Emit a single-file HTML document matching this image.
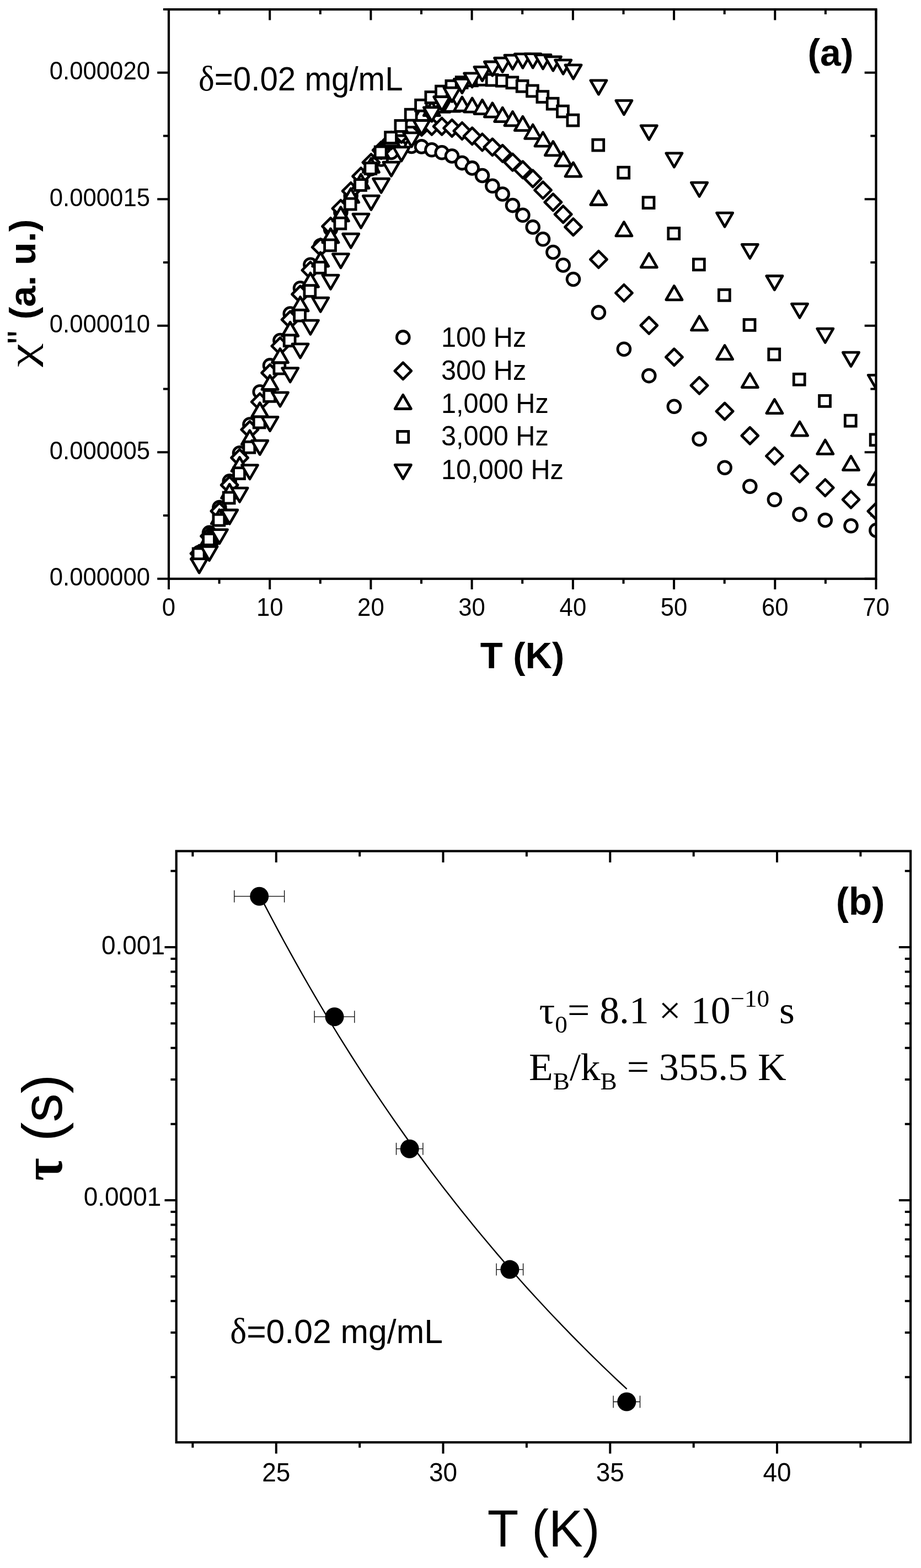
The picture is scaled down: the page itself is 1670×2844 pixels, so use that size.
<!DOCTYPE html>
<html lang="en"><head><meta charset="utf-8"><title>Figure</title>
<style>html,body{margin:0;padding:0;background:#fff}svg{display:block}</style></head>
<body>
<svg width="1670" height="2844" viewBox="0 0 1670 2844">
<defs>
<clipPath id="clipA"><rect x="306.0" y="17.1" width="1282.5" height="1032.7"/></clipPath>
</defs>
<rect width="1670" height="2844" fill="#fff"/>
<path d="M306.0 1049.8v19.3M306.0 17.1v19.3M397.6 1049.8v9.0M397.6 17.1v9.0M489.2 1049.8v19.3M489.2 17.1v19.3M580.8 1049.8v9.0M580.8 17.1v9.0M672.4 1049.8v19.3M672.4 17.1v19.3M764.0 1049.8v9.0M764.0 17.1v9.0M855.6 1049.8v19.3M855.6 17.1v19.3M947.2 1049.8v9.0M947.2 17.1v9.0M1038.9 1049.8v19.3M1038.9 17.1v19.3M1130.5 1049.8v9.0M1130.5 17.1v9.0M1222.1 1049.8v19.3M1222.1 17.1v19.3M1313.7 1049.8v9.0M1313.7 17.1v9.0M1405.3 1049.8v19.3M1405.3 17.1v19.3M1496.9 1049.8v9.0M1496.9 17.1v9.0M1588.5 1049.8v19.3M1588.5 17.1v19.3M306.0 1049.8h-20.8M1588.5 1049.8h-20.8M306.0 935.1h-10.1M1588.5 935.1h-10.1M306.0 820.3h-20.8M1588.5 820.3h-20.8M306.0 705.6h-10.1M1588.5 705.6h-10.1M306.0 590.8h-20.8M1588.5 590.8h-20.8M306.0 476.1h-10.1M1588.5 476.1h-10.1M306.0 361.3h-20.8M1588.5 361.3h-20.8M306.0 246.6h-10.1M1588.5 246.6h-10.1M306.0 131.8h-20.8M1588.5 131.8h-20.8M306.0 17.1h-10.1M1588.5 17.1h-10.1" stroke="#000" stroke-width="4.0" fill="none"/>
<g clip-path="url(#clipA)" fill="#fff" stroke="#000" stroke-width="4.8" stroke-linejoin="round">
<g><circle cx="361.2" cy="1002.0" r="11.4"/><circle cx="379.5" cy="966.4" r="11.4"/><circle cx="397.9" cy="920.5" r="11.4"/><circle cx="416.2" cy="872.9" r="11.4"/><circle cx="434.5" cy="821.8" r="11.4"/><circle cx="452.9" cy="770.0" r="11.4"/><circle cx="471.2" cy="710.7" r="11.4"/><circle cx="489.5" cy="662.9" r="11.4"/><circle cx="507.9" cy="617.5" r="11.4"/><circle cx="526.2" cy="569.0" r="11.4"/><circle cx="544.5" cy="522.7" r="11.4"/><circle cx="562.9" cy="480.2" r="11.4"/><circle cx="581.2" cy="445.5" r="11.4"/><circle cx="599.5" cy="415.4" r="11.4"/><circle cx="617.9" cy="385.0" r="11.4"/><circle cx="636.2" cy="354.8" r="11.4"/><circle cx="654.5" cy="328.0" r="11.4"/><circle cx="672.9" cy="306.1" r="11.4"/><circle cx="691.2" cy="289.0" r="11.4"/><circle cx="709.5" cy="276.5" r="11.4"/><circle cx="727.9" cy="268.5" r="11.4"/><circle cx="746.2" cy="265.5" r="11.4"/><circle cx="764.5" cy="265.9" r="11.4"/><circle cx="782.9" cy="271.8" r="11.4"/><circle cx="801.2" cy="276.8" r="11.4"/><circle cx="819.5" cy="283.0" r="11.4"/><circle cx="837.9" cy="295.6" r="11.4"/><circle cx="856.2" cy="304.9" r="11.4"/><circle cx="874.5" cy="318.5" r="11.4"/><circle cx="892.9" cy="337.3" r="11.4"/><circle cx="911.2" cy="352.0" r="11.4"/><circle cx="929.5" cy="372.6" r="11.4"/><circle cx="947.9" cy="390.3" r="11.4"/><circle cx="966.2" cy="411.9" r="11.4"/><circle cx="984.5" cy="433.8" r="11.4"/><circle cx="1002.9" cy="457.5" r="11.4"/><circle cx="1021.2" cy="481.0" r="11.4"/><circle cx="1039.5" cy="506.5" r="11.4"/><circle cx="1085.4" cy="566.8" r="11.4"/><circle cx="1131.4" cy="633.2" r="11.4"/><circle cx="1176.8" cy="681.6" r="11.4"/><circle cx="1222.4" cy="737.3" r="11.4"/><circle cx="1268.1" cy="796.2" r="11.4"/><circle cx="1314.1" cy="848.2" r="11.4"/><circle cx="1359.8" cy="882.2" r="11.4"/><circle cx="1404.4" cy="906.3" r="11.4"/><circle cx="1450.0" cy="933.1" r="11.4"/><circle cx="1496.3" cy="943.5" r="11.4"/><circle cx="1543.0" cy="953.8" r="11.4"/><circle cx="1588.9" cy="961.9" r="11.4"/></g>
<g><path d="M361.2 989.0L376.2 1004.0L361.2 1019.0L346.1 1004.0Z"/><path d="M379.5 957.4L394.6 972.4L379.5 987.4L364.5 972.4Z"/><path d="M397.9 912.0L412.9 927.0L397.9 942.0L382.8 927.0Z"/><path d="M416.2 864.7L431.2 879.7L416.2 894.8L401.1 879.7Z"/><path d="M434.5 815.2L449.6 830.3L434.5 845.3L419.5 830.3Z"/><path d="M452.9 764.2L467.9 779.2L452.9 794.2L437.8 779.2Z"/><path d="M471.2 713.9L486.2 728.9L471.2 743.9L456.1 728.9Z"/><path d="M489.5 661.2L504.6 676.2L489.5 691.2L474.5 676.2Z"/><path d="M507.9 612.6L522.9 627.6L507.9 642.6L492.8 627.6Z"/><path d="M526.2 564.7L541.2 579.7L526.2 594.8L511.1 579.7Z"/><path d="M544.5 518.7L559.6 533.7L544.5 548.8L529.5 533.7Z"/><path d="M562.9 475.1L577.9 490.1L562.9 505.2L547.8 490.1Z"/><path d="M581.2 433.3L596.2 448.4L581.2 463.4L566.1 448.4Z"/><path d="M599.5 395.4L614.6 410.5L599.5 425.6L584.5 410.5Z"/><path d="M617.9 363.1L632.9 378.1L617.9 393.2L602.8 378.1Z"/><path d="M636.2 331.4L651.2 346.5L636.2 361.6L621.1 346.5Z"/><path d="M654.5 304.6L669.6 319.7L654.5 334.8L639.5 319.7Z"/><path d="M672.9 279.6L687.9 294.6L672.9 309.7L657.8 294.6Z"/><path d="M691.2 257.4L706.2 272.5L691.2 287.6L676.1 272.5Z"/><path d="M709.5 239.9L724.6 255.0L709.5 270.1L694.5 255.0Z"/><path d="M727.9 228.3L742.9 243.4L727.9 258.4L712.8 243.4Z"/><path d="M746.2 220.4L761.2 235.5L746.2 250.6L731.1 235.5Z"/><path d="M764.5 215.4L779.6 230.5L764.5 245.6L749.5 230.5Z"/><path d="M782.9 214.2L797.9 229.3L782.9 244.4L767.8 229.3Z"/><path d="M801.2 214.1L816.2 229.2L801.2 244.2L786.1 229.2Z"/><path d="M819.5 217.3L834.6 232.4L819.5 247.5L804.5 232.4Z"/><path d="M837.9 222.4L852.9 237.5L837.9 252.6L822.8 237.5Z"/><path d="M856.2 231.8L871.2 246.9L856.2 261.9L841.1 246.9Z"/><path d="M874.5 242.9L889.6 258.0L874.5 273.1L859.5 258.0Z"/><path d="M892.9 251.8L907.9 266.8L892.9 281.9L877.8 266.8Z"/><path d="M911.2 263.3L926.2 278.4L911.2 293.4L896.1 278.4Z"/><path d="M929.5 279.1L944.6 294.1L929.5 309.2L914.5 294.1Z"/><path d="M947.9 292.8L962.9 307.9L947.9 322.9L932.8 307.9Z"/><path d="M966.2 308.9L981.2 324.0L966.2 339.1L951.1 324.0Z"/><path d="M984.5 329.8L999.6 344.9L984.5 359.9L969.5 344.9Z"/><path d="M1002.9 351.8L1017.9 366.8L1002.9 381.9L987.8 366.8Z"/><path d="M1021.2 373.6L1036.2 388.7L1021.2 403.8L1006.1 388.7Z"/><path d="M1039.5 396.6L1054.6 411.7L1039.5 426.8L1024.5 411.7Z"/><path d="M1085.4 455.4L1100.5 470.5L1085.4 485.6L1070.4 470.5Z"/><path d="M1131.4 516.4L1146.5 531.4L1131.4 546.4L1116.4 531.4Z"/><path d="M1176.8 575.2L1191.8 590.3L1176.8 605.3L1161.8 590.3Z"/><path d="M1222.4 632.8L1237.5 647.8L1222.4 662.8L1207.4 647.8Z"/><path d="M1268.1 684.2L1283.1 699.3L1268.1 714.3L1253.0 699.3Z"/><path d="M1314.1 731.0L1329.1 746.0L1314.1 761.0L1299.0 746.0Z"/><path d="M1359.8 775.2L1374.8 790.3L1359.8 805.3L1344.8 790.3Z"/><path d="M1404.4 812.1L1419.5 827.1L1404.4 842.1L1389.4 827.1Z"/><path d="M1450.0 844.2L1465.0 859.3L1450.0 874.3L1435.0 859.3Z"/><path d="M1496.3 869.6L1511.3 884.6L1496.3 899.6L1481.2 884.6Z"/><path d="M1543.0 891.1L1558.0 906.1L1543.0 921.1L1528.0 906.1Z"/><path d="M1588.9 912.2L1604.0 927.3L1588.9 942.3L1573.9 927.3Z"/></g>
<g><path d="M361.2 989.4L375.8 1014.6L346.6 1014.6Z"/><path d="M379.5 961.9L394.1 987.1L364.9 987.1Z"/><path d="M397.9 924.6L412.5 949.9L383.3 949.9Z"/><path d="M416.2 878.2L430.8 903.5L401.6 903.5Z"/><path d="M434.5 829.4L449.1 854.6L419.9 854.6Z"/><path d="M452.9 780.8L467.5 806.0L438.3 806.0Z"/><path d="M471.2 730.5L485.8 755.8L456.6 755.8Z"/><path d="M489.5 681.1L504.1 706.4L474.9 706.4Z"/><path d="M507.9 632.4L522.5 657.6L493.3 657.6Z"/><path d="M526.2 584.2L540.8 609.5L511.6 609.5Z"/><path d="M544.5 538.6L559.1 563.9L529.9 563.9Z"/><path d="M562.9 495.1L577.5 520.4L548.3 520.4Z"/><path d="M581.2 457.8L595.8 483.0L566.6 483.0Z"/><path d="M599.5 414.8L614.1 440.0L584.9 440.0Z"/><path d="M617.9 375.7L632.5 400.9L603.3 400.9Z"/><path d="M636.2 342.0L650.8 367.2L621.6 367.2Z"/><path d="M654.5 316.2L669.1 341.4L639.9 341.4Z"/><path d="M672.9 287.2L687.5 312.5L658.3 312.5Z"/><path d="M691.2 261.8L705.8 287.0L676.6 287.0Z"/><path d="M709.5 239.3L724.1 264.6L694.9 264.6Z"/><path d="M727.9 220.7L742.5 246.0L713.3 246.0Z"/><path d="M746.2 205.3L760.8 230.7L731.6 230.7Z"/><path d="M764.5 193.2L779.1 218.6L749.9 218.6Z"/><path d="M782.9 184.3L797.5 209.7L768.3 209.7Z"/><path d="M801.2 178.0L815.8 203.3L786.6 203.3Z"/><path d="M819.5 176.8L834.1 202.1L804.9 202.1Z"/><path d="M837.9 175.9L852.5 201.2L823.3 201.2Z"/><path d="M856.2 177.9L870.8 203.2L841.6 203.2Z"/><path d="M874.5 181.2L889.1 206.6L859.9 206.6Z"/><path d="M892.9 186.8L907.5 212.1L878.3 212.1Z"/><path d="M911.2 195.2L925.8 220.6L896.6 220.6Z"/><path d="M929.5 202.4L944.1 227.8L914.9 227.8Z"/><path d="M947.9 211.3L962.5 236.7L933.3 236.7Z"/><path d="M966.2 226.1L980.8 251.4L951.6 251.4Z"/><path d="M984.5 239.9L999.1 265.2L969.9 265.2Z"/><path d="M1002.9 256.5L1017.5 281.8L988.3 281.8Z"/><path d="M1021.2 275.5L1035.8 300.8L1006.6 300.8Z"/><path d="M1039.5 294.9L1054.1 320.1L1024.9 320.1Z"/><path d="M1085.4 346.2L1100.0 371.5L1070.8 371.5Z"/><path d="M1131.4 402.7L1146.0 427.9L1116.8 427.9Z"/><path d="M1176.8 459.7L1191.4 484.9L1162.2 484.9Z"/><path d="M1222.4 518.5L1237.0 543.8L1207.8 543.8Z"/><path d="M1268.1 573.6L1282.7 598.9L1253.5 598.9Z"/><path d="M1314.1 626.4L1328.7 651.6L1299.5 651.6Z"/><path d="M1359.8 677.4L1374.4 702.6L1345.2 702.6Z"/><path d="M1404.4 724.4L1419.0 749.6L1389.8 749.6Z"/><path d="M1450.0 764.9L1464.6 790.1L1435.4 790.1Z"/><path d="M1496.3 798.1L1510.9 823.4L1481.7 823.4Z"/><path d="M1543.0 827.4L1557.6 852.6L1528.4 852.6Z"/><path d="M1588.9 853.9L1603.5 879.1L1574.3 879.1Z"/></g>
<g><rect x="350.2" y="994.9" width="19.9" height="19.9" stroke-linejoin="miter"/><rect x="368.6" y="968.4" width="19.9" height="19.9" stroke-linejoin="miter"/><rect x="386.9" y="933.2" width="19.9" height="19.9" stroke-linejoin="miter"/><rect x="405.2" y="893.0" width="19.9" height="19.9" stroke-linejoin="miter"/><rect x="423.6" y="848.6" width="19.9" height="19.9" stroke-linejoin="miter"/><rect x="441.9" y="801.3" width="19.9" height="19.9" stroke-linejoin="miter"/><rect x="460.2" y="756.0" width="19.9" height="19.9" stroke-linejoin="miter"/><rect x="478.6" y="708.4" width="19.9" height="19.9" stroke-linejoin="miter"/><rect x="496.9" y="658.1" width="19.9" height="19.9" stroke-linejoin="miter"/><rect x="515.2" y="607.8" width="19.9" height="19.9" stroke-linejoin="miter"/><rect x="533.6" y="562.2" width="19.9" height="19.9" stroke-linejoin="miter"/><rect x="551.9" y="517.6" width="19.9" height="19.9" stroke-linejoin="miter"/><rect x="570.2" y="475.4" width="19.9" height="19.9" stroke-linejoin="miter"/><rect x="588.6" y="434.9" width="19.9" height="19.9" stroke-linejoin="miter"/><rect x="606.9" y="395.2" width="19.9" height="19.9" stroke-linejoin="miter"/><rect x="625.2" y="360.1" width="19.9" height="19.9" stroke-linejoin="miter"/><rect x="643.6" y="325.6" width="19.9" height="19.9" stroke-linejoin="miter"/><rect x="661.9" y="295.6" width="19.9" height="19.9" stroke-linejoin="miter"/><rect x="680.2" y="266.1" width="19.9" height="19.9" stroke-linejoin="miter"/><rect x="698.6" y="239.6" width="19.9" height="19.9" stroke-linejoin="miter"/><rect x="716.9" y="218.5" width="19.9" height="19.9" stroke-linejoin="miter"/><rect x="735.2" y="198.2" width="19.9" height="19.9" stroke-linejoin="miter"/><rect x="753.6" y="181.2" width="19.9" height="19.9" stroke-linejoin="miter"/><rect x="771.9" y="166.6" width="19.9" height="19.9" stroke-linejoin="miter"/><rect x="790.5" y="156.1" width="19.9" height="19.9" stroke-linejoin="miter"/><rect x="808.9" y="146.4" width="19.9" height="19.9" stroke-linejoin="miter"/><rect x="827.2" y="139.6" width="19.9" height="19.9" stroke-linejoin="miter"/><rect x="845.5" y="135.9" width="19.9" height="19.9" stroke-linejoin="miter"/><rect x="863.9" y="134.4" width="19.9" height="19.9" stroke-linejoin="miter"/><rect x="882.2" y="135.1" width="19.9" height="19.9" stroke-linejoin="miter"/><rect x="900.5" y="136.4" width="19.9" height="19.9" stroke-linejoin="miter"/><rect x="918.9" y="139.9" width="19.9" height="19.9" stroke-linejoin="miter"/><rect x="937.2" y="146.4" width="19.9" height="19.9" stroke-linejoin="miter"/><rect x="955.5" y="155.0" width="19.9" height="19.9" stroke-linejoin="miter"/><rect x="973.9" y="165.6" width="19.9" height="19.9" stroke-linejoin="miter"/><rect x="992.2" y="178.2" width="19.9" height="19.9" stroke-linejoin="miter"/><rect x="1010.5" y="192.1" width="19.9" height="19.9" stroke-linejoin="miter"/><rect x="1028.9" y="208.2" width="19.9" height="19.9" stroke-linejoin="miter"/><rect x="1074.8" y="253.2" width="19.9" height="19.9" stroke-linejoin="miter"/><rect x="1120.8" y="303.2" width="19.9" height="19.9" stroke-linejoin="miter"/><rect x="1166.1" y="357.7" width="19.9" height="19.9" stroke-linejoin="miter"/><rect x="1211.8" y="413.6" width="19.9" height="19.9" stroke-linejoin="miter"/><rect x="1257.4" y="469.9" width="19.9" height="19.9" stroke-linejoin="miter"/><rect x="1303.4" y="525.4" width="19.9" height="19.9" stroke-linejoin="miter"/><rect x="1349.1" y="579.5" width="19.9" height="19.9" stroke-linejoin="miter"/><rect x="1393.8" y="632.9" width="19.9" height="19.9" stroke-linejoin="miter"/><rect x="1439.3" y="678.3" width="19.9" height="19.9" stroke-linejoin="miter"/><rect x="1485.6" y="717.4" width="19.9" height="19.9" stroke-linejoin="miter"/><rect x="1532.3" y="753.2" width="19.9" height="19.9" stroke-linejoin="miter"/><rect x="1578.2" y="787.8" width="19.9" height="19.9" stroke-linejoin="miter"/></g>
<g><path d="M346.6 1013.6L375.8 1013.6L361.2 1039.0Z"/><path d="M364.9 991.4L394.1 991.4L379.5 1016.6Z"/><path d="M383.3 960.6L412.5 960.6L397.9 985.9Z"/><path d="M401.6 925.0L430.8 925.0L416.2 950.2Z"/><path d="M419.9 885.1L449.1 885.1L434.5 910.4Z"/><path d="M438.3 843.6L467.5 843.6L452.9 868.9Z"/><path d="M456.6 799.2L485.8 799.2L471.2 824.5Z"/><path d="M474.9 756.4L504.1 756.4L489.5 781.6Z"/><path d="M493.3 711.9L522.5 711.9L507.9 737.1Z"/><path d="M511.6 667.6L540.8 667.6L526.2 692.9Z"/><path d="M529.9 623.9L559.1 623.9L544.5 649.1Z"/><path d="M548.3 581.1L577.5 581.1L562.9 606.4Z"/><path d="M566.6 540.1L595.8 540.1L581.2 565.4Z"/><path d="M584.9 499.1L614.1 499.1L599.5 524.4Z"/><path d="M603.3 460.6L632.5 460.6L617.9 485.8Z"/><path d="M621.6 424.2L650.8 424.2L636.2 449.4Z"/><path d="M639.9 388.2L669.1 388.2L654.5 413.4Z"/><path d="M658.3 355.2L687.5 355.2L672.9 380.5Z"/><path d="M676.6 324.2L705.8 324.2L691.2 349.4Z"/><path d="M694.9 294.2L724.1 294.2L709.5 319.4Z"/><path d="M713.3 266.9L742.5 266.9L727.9 292.1Z"/><path d="M731.6 240.9L760.8 240.9L746.2 266.2Z"/><path d="M749.9 218.5L779.1 218.5L764.5 243.8Z"/><path d="M768.3 194.9L797.5 194.9L782.9 220.2Z"/><path d="M786.6 175.5L815.8 175.5L801.2 200.8Z"/><path d="M804.9 159.2L834.1 159.2L819.5 184.5Z"/><path d="M823.3 143.3L852.5 143.3L837.9 168.7Z"/><path d="M841.6 132.8L870.8 132.8L856.2 158.1Z"/><path d="M859.9 121.3L889.1 121.3L874.5 146.7Z"/><path d="M878.3 112.0L907.5 112.0L892.9 137.3Z"/><path d="M896.6 105.2L925.8 105.2L911.2 130.6Z"/><path d="M914.9 100.1L944.1 100.1L929.5 125.5Z"/><path d="M933.3 97.9L962.5 97.9L947.9 123.2Z"/><path d="M951.6 97.6L980.8 97.6L966.2 123.0Z"/><path d="M969.9 99.5L999.1 99.5L984.5 124.9Z"/><path d="M988.3 102.9L1017.5 102.9L1002.9 128.2Z"/><path d="M1006.6 108.9L1035.8 108.9L1021.2 134.2Z"/><path d="M1024.9 117.8L1054.1 117.8L1039.5 143.1Z"/><path d="M1070.8 145.9L1100.0 145.9L1085.4 171.2Z"/><path d="M1116.8 182.4L1146.0 182.4L1131.4 207.8Z"/><path d="M1162.2 227.8L1191.4 227.8L1176.8 253.2Z"/><path d="M1207.8 277.9L1237.0 277.9L1222.4 303.1Z"/><path d="M1253.5 331.2L1282.7 331.2L1268.1 356.4Z"/><path d="M1299.5 386.1L1328.7 386.1L1314.1 411.3Z"/><path d="M1345.2 443.4L1374.4 443.4L1359.8 468.6Z"/><path d="M1389.8 500.5L1419.0 500.5L1404.4 525.8Z"/><path d="M1435.4 551.1L1464.6 551.1L1450.0 576.4Z"/><path d="M1481.7 596.1L1510.9 596.1L1496.3 621.4Z"/><path d="M1528.4 639.2L1557.6 639.2L1543.0 664.5Z"/><path d="M1574.3 680.4L1603.5 680.4L1588.9 705.6Z"/></g>
</g>
<rect x="306.0" y="17.1" width="1282.5" height="1032.7" fill="none" stroke="#000" stroke-width="4.2"/>
<g font-family="'Liberation Sans',sans-serif" font-size="43.7" fill="#000">
<text transform="translate(272.0 1062.1) scale(1.0 1.04)" text-anchor="end">0.000000</text>
<text transform="translate(272.0 832.6) scale(1.0 1.04)" text-anchor="end">0.000005</text>
<text transform="translate(272.0 603.1) scale(1.0 1.04)" text-anchor="end">0.000010</text>
<text transform="translate(272.0 373.6) scale(1.0 1.04)" text-anchor="end">0.000015</text>
<text transform="translate(272.0 144.1) scale(1.0 1.04)" text-anchor="end">0.000020</text>
<text transform="translate(306.0 1117.4) scale(1.0 1.04)" text-anchor="middle">0</text>
<text transform="translate(489.2 1117.4) scale(1.0 1.04)" text-anchor="middle">10</text>
<text transform="translate(672.4 1117.4) scale(1.0 1.04)" text-anchor="middle">20</text>
<text transform="translate(855.6 1117.4) scale(1.0 1.04)" text-anchor="middle">30</text>
<text transform="translate(1038.9 1117.4) scale(1.0 1.04)" text-anchor="middle">40</text>
<text transform="translate(1222.1 1117.4) scale(1.0 1.04)" text-anchor="middle">50</text>
<text transform="translate(1405.3 1117.4) scale(1.0 1.04)" text-anchor="middle">60</text>
<text transform="translate(1588.5 1117.4) scale(1.0 1.04)" text-anchor="middle">70</text>
</g>
<text x="947" y="1212" font-family="'Liberation Sans',sans-serif" font-size="67" font-weight="bold" text-anchor="middle">T (K)</text>
<g transform="translate(63.8 665.6) rotate(-90)" font-size="67"><text transform="translate(-0.1 0) scale(1.44 1)" font-family="'Liberation Serif',serif">χ</text><text transform="translate(41.5 0) scale(1 1.04)" font-family="'Liberation Sans',sans-serif" font-size="69">"</text><text transform="translate(86 0) scale(1.02 1)" font-family="'Liberation Sans',sans-serif" font-weight="bold">(a. u.)</text></g>
<text x="1506" y="118.5" font-family="'Liberation Sans',sans-serif" font-size="68" font-weight="bold" text-anchor="middle">(a)</text>
<text transform="translate(360 164) scale(1 1.04)" font-family="'Liberation Sans',sans-serif" font-size="58.3"><tspan font-family="'Liberation Serif',serif" font-size="61">δ</tspan>=0.02 mg/mL</text>
<g fill="#fff" stroke="#000" stroke-width="4.8" stroke-linejoin="round"><circle cx="730.8" cy="611.9" r="11.4"/><path d="M730.8 657.7L745.8 672.7L730.8 687.8L715.8 672.7Z"/><path d="M730.8 716.2L745.4 741.5L716.2 741.5Z"/><rect x="720.8" y="782.4" width="19.9" height="19.9" stroke-linejoin="miter"/><path d="M716.2 843.2L745.4 843.2L730.8 868.5Z"/></g>
<g font-family="'Liberation Sans',sans-serif" font-size="48.7" fill="#000"><text transform="translate(800.0 628.8) scale(1.0 1.04)" text-anchor="start">100 Hz</text><text transform="translate(800.0 689.3) scale(1.0 1.04)" text-anchor="start">300 Hz</text><text transform="translate(800.0 748.8) scale(1.0 1.04)" text-anchor="start">1,000 Hz</text><text transform="translate(800.0 808.2) scale(1.0 1.04)" text-anchor="start">3,000 Hz</text><text transform="translate(800.0 868.5) scale(1.0 1.04)" text-anchor="start">10,000 Hz</text></g>
<path d="M349.4 2616.1v9.7M349.4 1543.7v9.7M500.8 2616.1v20.5M500.8 1543.7v20.5M652.2 2616.1v9.7M652.2 1543.7v9.7M803.5 2616.1v20.5M803.5 1543.7v20.5M954.9 2616.1v9.7M954.9 1543.7v9.7M1106.3 2616.1v20.5M1106.3 1543.7v20.5M1257.7 2616.1v9.7M1257.7 1543.7v9.7M1409.0 2616.1v20.5M1409.0 1543.7v20.5M1560.4 2616.1v9.7M1560.4 1543.7v9.7M319.7 2497.8h-10.3M1651.1 2497.8h-10.3M319.7 2417.0h-10.3M1651.1 2417.0h-10.3M319.7 2359.7h-10.3M1651.1 2359.7h-10.3M319.7 2315.2h-10.3M1651.1 2315.2h-10.3M319.7 2278.8h-10.3M1651.1 2278.8h-10.3M319.7 2248.1h-10.3M1651.1 2248.1h-10.3M319.7 2221.5h-10.3M1651.1 2221.5h-10.3M319.7 2198.0h-10.3M1651.1 2198.0h-10.3M319.7 2177.0h-21.2M1651.1 2177.0h-21.2M319.7 2038.8h-10.3M1651.1 2038.8h-10.3M319.7 1958.0h-10.3M1651.1 1958.0h-10.3M319.7 1900.7h-10.3M1651.1 1900.7h-10.3M319.7 1856.2h-10.3M1651.1 1856.2h-10.3M319.7 1819.8h-10.3M1651.1 1819.8h-10.3M319.7 1789.1h-10.3M1651.1 1789.1h-10.3M319.7 1762.5h-10.3M1651.1 1762.5h-10.3M319.7 1739.0h-10.3M1651.1 1739.0h-10.3M319.7 1718.0h-21.2M1651.1 1718.0h-21.2M319.7 1579.8h-10.3M1651.1 1579.8h-10.3" stroke="#000" stroke-width="4.0" fill="none"/>
<path d="M470.5 1623.1L481.6 1644.6L492.7 1665.8L503.8 1686.6L514.9 1707.2L526.0 1727.4L537.1 1747.4L548.2 1767.1L559.3 1786.5L570.4 1805.6L581.5 1824.5L592.6 1843.1L603.7 1861.5L614.8 1879.6L625.9 1897.4L637.0 1915.0L648.1 1932.4L659.2 1949.6L670.3 1966.5L681.4 1983.2L692.5 1999.7L703.6 2015.9L714.7 2032.0L725.8 2047.8L736.9 2063.5L748.0 2079.0L759.1 2094.2L770.2 2109.3L781.3 2124.2L792.4 2138.9L803.5 2153.4L814.7 2167.8L825.8 2181.9L836.9 2195.9L848.0 2209.8L859.1 2223.5L870.2 2237.0L881.3 2250.3L892.4 2263.5L903.5 2276.6L914.6 2289.5L925.7 2302.2L936.8 2314.8L947.9 2327.3L959.0 2339.6L970.1 2351.8L981.2 2363.8L992.3 2375.7L1003.4 2387.5L1014.5 2399.2L1025.6 2410.7L1036.7 2422.1L1047.8 2433.4L1058.9 2444.5L1070.0 2455.6L1081.1 2466.5L1092.2 2477.3L1103.3 2488.0L1114.4 2498.6L1125.5 2509.0L1136.6 2519.4" fill="none" stroke="#000" stroke-width="2.4"/>
<path d="M424.8 1625.7H515.6M424.8 1614.7v22M515.6 1614.7v22M570.1 1844.2H642.8M570.1 1833.2v22M642.8 1833.2v22M718.5 2083.7H766.9M718.5 2072.7v22M766.9 2072.7v22M900.1 2302.6H948.6M900.1 2291.6v22M948.6 2291.6v22M1112.1 2542.5H1160.5M1112.1 2531.5v22M1160.5 2531.5v22" fill="none" stroke="#000" stroke-width="1.3"/>
<circle cx="470.2" cy="1625.7" r="17" fill="#000"/>
<circle cx="606.5" cy="1844.2" r="17" fill="#000"/>
<circle cx="742.7" cy="2083.7" r="17" fill="#000"/>
<circle cx="924.4" cy="2302.6" r="17" fill="#000"/>
<circle cx="1136.3" cy="2542.5" r="17" fill="#000"/>
<rect x="319.7" y="1543.7" width="1331.4" height="1072.4" fill="none" stroke="#000" stroke-width="4.2"/>
<g font-family="'Liberation Sans',sans-serif" font-size="46" fill="#000">
<text transform="translate(299.0 1730.7) scale(1.0 1.04)" text-anchor="end">0.001</text>
<text transform="translate(292.3 2186.6) scale(1.0 1.04)" text-anchor="end">0.0001</text>
<text transform="translate(500.8 2687.1) scale(1.0 1.04)" text-anchor="middle">25</text>
<text transform="translate(803.5 2687.1) scale(1.0 1.04)" text-anchor="middle">30</text>
<text transform="translate(1106.3 2687.1) scale(1.0 1.04)" text-anchor="middle">35</text>
<text transform="translate(1409.0 2687.1) scale(1.0 1.04)" text-anchor="middle">40</text>
</g>
<text transform="translate(985.6 2804.9) scale(1 1.03)" font-family="'Liberation Sans',sans-serif" font-size="92.5" text-anchor="middle">T (K)</text>
<g transform="translate(111.7 2140.2) rotate(-90)" font-family="'Liberation Sans',sans-serif" font-size="101.5"><text transform="translate(-1.5 0) scale(0.88 1)" font-family="'Liberation Serif',serif" font-weight="bold" font-size="102">τ</text><text transform="translate(70 0) scale(1.03 1)">(s)</text></g>
<text x="1560" y="1658.5" font-family="'Liberation Sans',sans-serif" font-size="69.5" font-weight="bold" text-anchor="middle">(b)</text>
<text transform="translate(417.2 2435.8) scale(1.041 1.06)" font-family="'Liberation Sans',sans-serif" font-size="58.3"><tspan font-family="'Liberation Serif',serif" font-size="61">δ</tspan>=0.02 mg/mL</text>
<text transform="translate(977.5 1855.9) scale(1.016 1)" font-family="'Liberation Serif',serif" font-size="70.5">τ<tspan dy="17.5" font-size="44.5">0</tspan><tspan dy="-17.5">= 8.1 × 10</tspan><tspan dy="-29.7" font-size="44.5">−10</tspan><tspan dy="29.7"> s</tspan></text>
<text transform="translate(959 1958.8) scale(1.016 1)" font-family="'Liberation Serif',serif" font-size="70.5">E<tspan dy="17.5" font-size="44.5">B</tspan><tspan dy="-17.5">/k</tspan><tspan dy="17.5" font-size="44.5">B</tspan><tspan dy="-17.5"> = 355.5 K</tspan></text>
</svg>
</body></html>
